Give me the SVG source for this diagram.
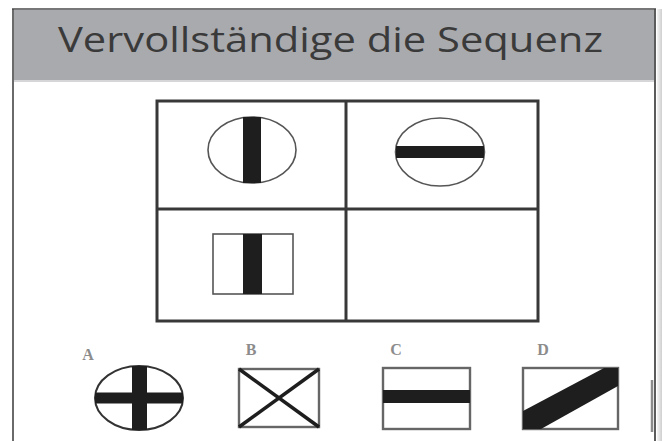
<svg xmlns="http://www.w3.org/2000/svg" width="662" height="441" viewBox="0 0 662 441">
<defs>
<linearGradient id="shade" x1="0" y1="0" x2="1" y2="0">
<stop offset="0" stop-color="#f4f4f4"/>
<stop offset="1" stop-color="#cfcfcf"/>
</linearGradient>
</defs>
<style>
.grid{fill:none;stroke:#383838;stroke-width:3}
.thin{fill:none;stroke:#555;stroke-width:1.6}
.opt{fill:none;stroke:#666;stroke-width:2.4}
.bar{fill:#1e1e1e}
.diag{stroke:#1e1e1e;stroke-width:3.5}
.lbl{font-family:"Liberation Serif",serif;font-weight:bold;font-size:16px;fill:#8c8c8c;text-anchor:middle}
.title{font-family:"Open Sans","Liberation Sans",sans-serif;font-size:34px;fill:#3a3a3a}
</style>
<rect x="0" y="0" width="662" height="441" fill="#ffffff"/>
<rect x="657" y="9" width="5" height="432" fill="url(#shade)"/>
<g id="frame">
<rect x="14" y="10" width="640" height="70" fill="#a9aaae"/>
<rect x="14" y="80" width="640" height="2" fill="#d6d6d8"/>
<line x1="13" y1="9" x2="13" y2="441" stroke="#6a6a6a" stroke-width="2"/>
<line x1="12" y1="9" x2="656" y2="9" stroke="#4a4a4a" stroke-width="1.5"/>
<line x1="655" y1="9" x2="655" y2="441" stroke="#4a4a4a" stroke-width="1.8"/>
<line x1="652" y1="380" x2="652" y2="432" stroke="#8a8a8a" stroke-width="2.5"/>
</g>
<g id="title">
<text class="title" x="58" y="52" textLength="545" lengthAdjust="spacingAndGlyphs">Vervollständige die Sequenz</text>
</g>
<g id="grid">
<rect class="grid" x="157" y="101" width="381" height="220"/>
<line class="grid" x1="346" y1="101" x2="346" y2="321"/>
<line class="grid" x1="157" y1="209" x2="538" y2="209"/>
</g>
<g id="cell1">
<ellipse class="thin" cx="252" cy="150" rx="44" ry="33"/>
<rect class="bar" x="243" y="117" width="18" height="66"/>
</g>
<g id="cell2">
<ellipse class="thin" cx="440" cy="152" rx="44.5" ry="34"/>
<rect class="bar" x="396" y="146" width="88" height="12"/>
</g>
<g id="cell3">
<rect class="thin" x="213" y="234" width="80" height="60" stroke="#666"/>
<rect class="bar" x="243" y="234" width="19" height="60"/>
</g>
<g id="optionA">
<text class="lbl" x="88" y="360">A</text>
<ellipse fill="none" stroke="#333" stroke-width="2" cx="139" cy="398" rx="44" ry="32"/>
<rect class="bar" x="95" y="392.5" width="88" height="11"/>
<rect class="bar" x="132" y="366" width="15" height="64"/>
</g>
<g id="optionB">
<text class="lbl" x="251" y="355">B</text>
<rect class="opt" x="239" y="369" width="80" height="58"/>
<line class="diag" x1="239" y1="369" x2="319" y2="427"/>
<line class="diag" x1="319" y1="369" x2="239" y2="427"/>
</g>
<g id="optionC">
<text class="lbl" x="396" y="355">C</text>
<rect class="opt" x="383" y="368" width="87" height="61"/>
<rect class="bar" x="383" y="390" width="87" height="13"/>
</g>
<g id="optionD">
<text class="lbl" x="543" y="355">D</text>
<rect class="opt" x="523" y="368" width="95" height="61"/>
<polygon class="bar" points="523,411 604,368 618,368 618,386 541,429 523,429"/>
</g>
</svg>
